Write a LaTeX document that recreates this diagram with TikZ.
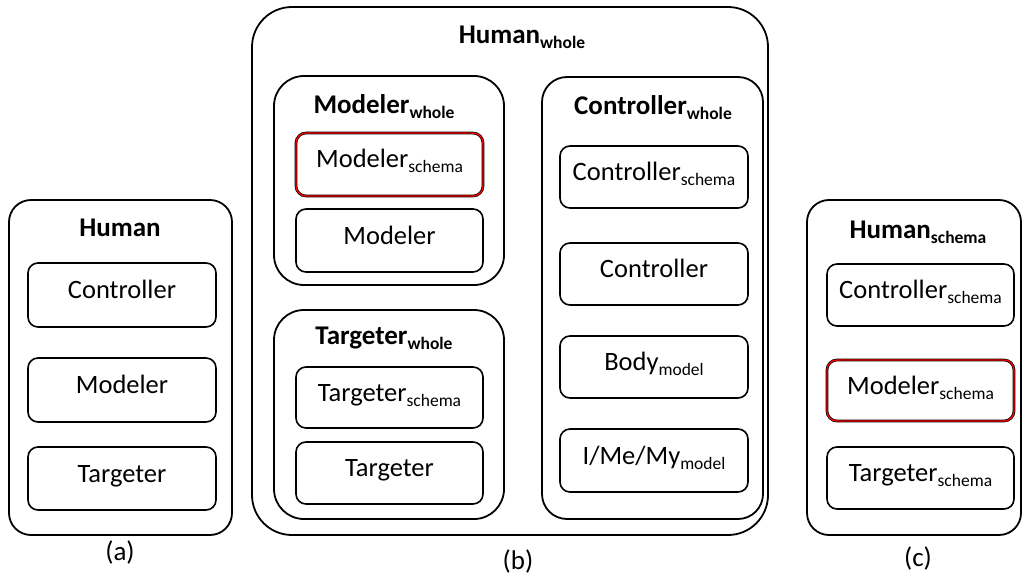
\documentclass[tikz,border=0pt]{standalone}
\usepackage{fontspec}
\setmainfont{Carlito}
\newcommand{\sbs}[1]{\raisebox{-5pt}{\fontsize{17.5}{17.5}\selectfont #1}}
\begin{document}
\begin{tikzpicture}[x=1pt,y=-1pt,
  every node/.style={inner sep=0pt, outer sep=0pt},
  box/.style={draw, line width=1.6pt, rounded corners=10pt, anchor=north west, font=\fontsize{26.5}{26.5}\selectfont, text height=12pt, text depth=5pt},
  outer/.style={draw, line width=1.8pt, anchor=north west},
  redbox/.style={box, draw=black, double=red, line width=0.7pt, double distance=1.3pt},
  ttl/.style={font=\fontsize{27}{27}\selectfont\bfseries},
  captxt/.style={font=\fontsize{27}{27}\selectfont}]
\useasboundingbox (0,0) rectangle (1024,577);
% (a)
\node[outer, rounded corners=22pt, minimum width=223pt, minimum height=335pt] (A) at (9,200) {};
\node[ttl] (Atitle) at (120,228) {Human};
\node[box, minimum width=188pt, minimum height=64pt] (Actrl) at (28,263) {Controller};
\node[box, minimum width=188pt, minimum height=64pt] (Amod) at (28,358) {Modeler};
\node[box, minimum width=188pt, minimum height=63pt] (Atar) at (28,447) {Targeter};
\node[captxt] (Acap) at (120,552) {(a)};
% (b)
\node[outer, rounded corners=40pt, minimum width=516pt, minimum height=528pt] (B) at (252,7) {};
\node[ttl] (Btitle) at (522,37) {Human\sbs{whole}};
\node[outer, rounded corners=30pt, minimum width=230pt, minimum height=209pt] (Bmw) at (274,76) {};
\node[ttl] (Bmwt) at (384,107) {Modeler\sbs{whole}};
\node[redbox, minimum width=187pt, minimum height=63pt] (Bms) at (296,133) {Modeler\sbs{schema}};
\node[box, minimum width=187pt, minimum height=63pt] (Bm) at (296,209) {Modeler};
\node[outer, rounded corners=30pt, minimum width=230pt, minimum height=209pt] (Btw) at (274,310) {};
\node[ttl] (Btwt) at (384,338) {Targeter\sbs{whole}};
\node[box, minimum width=187pt, minimum height=61pt] (Bts) at (296,367) {Targeter\sbs{schema}};
\node[box, minimum width=187pt, minimum height=62pt] (Bt) at (296,442) {Targeter};
\node[outer, rounded corners=25pt, minimum width=221pt, minimum height=442pt] (Bcw) at (542,77) {};
\node[ttl] (Bcwt) at (653,108) {Controller\sbs{whole}};
\node[box, minimum width=188pt, minimum height=62pt] (Bcs) at (560,146) {Controller\sbs{schema}};
\node[box, minimum width=188pt, minimum height=62pt] (Bc) at (560,243) {Controller};
\node[box, minimum width=188pt, minimum height=62pt] (Bbody) at (560,336) {Body\sbs{model}};
\node[box, minimum width=188pt, minimum height=63pt] (Bime) at (560,429) {I/Me/My\sbs{model}};
\node[captxt] (Bcap) at (518,561) {(b)};
% (c)
\node[outer, rounded corners=22pt, minimum width=214pt, minimum height=335pt] (C) at (807,200) {};
\node[ttl] (Ctitle) at (918,232) {Human\sbs{schema}};
\node[box, minimum width=187pt, minimum height=62pt] (Ccs) at (827,264) {Controller\sbs{schema}};
\node[redbox, minimum width=187pt, minimum height=61pt] (Cms) at (827,360) {Modeler\sbs{schema}};
\node[box, minimum width=187pt, minimum height=62pt] (Cts) at (827,447) {Targeter\sbs{schema}};
\node[captxt] (Ccap) at (918,558) {(c)};
\end{tikzpicture}
\end{document}
